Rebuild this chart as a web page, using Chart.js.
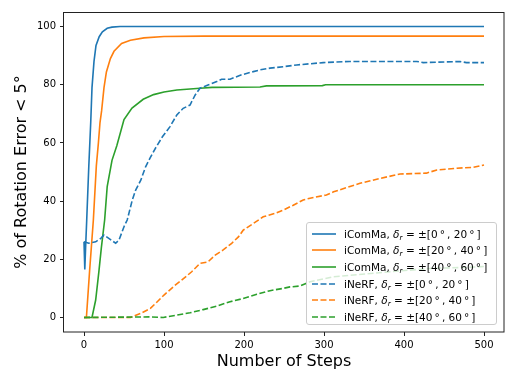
<!DOCTYPE html>
<html><head><meta charset="utf-8">
<script src="https://cdn.jsdelivr.net/npm/chart.js@4"></script>
<style>
html,body{margin:0;padding:0;background:#fff;}
#wrap{position:relative;width:515px;height:386px;}
#legend{position:absolute;left:306px;top:222px;width:191px;height:103px;box-sizing:border-box;border:1px solid #ccc;border-radius:3px;background:rgba(255,255,255,0.8);font-family:'DejaVu Sans';font-size:10.5px;color:#000;}
.row{position:absolute;left:5px;height:16px;display:flex;align-items:center;white-space:nowrap;}
.row svg{display:block;margin-right:8px;}
.row i sub{font-size:0.7em;vertical-align:-0.3em;line-height:0;}
</style>
</head><body>
<div id="wrap"><canvas id="c" width="515" height="386"></canvas><div id="legend"></div></div>
<script>
// ---- data ----
const xTicks = [0, 100, 200, 300, 400, 500];
const yTicks = [0, 20, 40, 60, 80, 100];
const xTitle = 'Number of Steps';
const yTitle = '% of Rotation Error < 5°';
const methods = ['iComMa', 'iComMa', 'iComMa', 'iNeRF', 'iNeRF', 'iNeRF'];
const ranges = [[0, 20], [20, 40], [40, 60], [0, 20], [20, 40], [40, 60]];

const icommaA_x = [0, 1, 2, 3.4, 6, 8.4, 10, 12.5, 15, 19, 23, 29, 35, 45, 500];
const icommaA_y = [26, 16.5, 24, 33.5, 52, 67, 79, 88, 93.5, 96.5, 98.2, 99.4, 99.8, 100, 100];

const icommaB_x = [0, 3, 7, 11.7, 15.4, 18, 20, 22, 25, 28, 33, 37.5, 47, 58, 75, 100, 150, 500];
const icommaB_y = [0, 0, 16, 33.5, 52, 60, 67, 71, 79, 84.4, 89, 91.5, 94.2, 95.3, 96.1, 96.6, 96.7, 96.7];

const icommaC_x = [0, 10, 14.6, 18.7, 21.7, 25.8, 29, 35, 41, 50, 60, 74, 87, 100, 116, 145, 160, 220, 228, 298, 302, 500];
const icommaC_y = [0, 0, 6, 16, 24, 33.5, 45, 54, 59, 68, 72, 75, 76.6, 77.5, 78.2, 78.8, 79.1, 79.2, 79.6, 79.7, 80, 80];

const inerfA_x = [0, 6, 14.6, 21, 25, 31, 39.6, 43.75, 50, 54, 60.4, 64.6, 71, 77, 83, 90, 98, 107.5, 116, 124, 132.5, 139, 145, 155, 166, 172, 182.5, 197, 211.6, 220, 232.5, 249, 266, 299, 332, 416, 424, 470, 478, 500];
const inerfA_y = [26, 25.5, 26, 27.2, 28.3, 27.2, 25.5, 26.6, 31.2, 33.5, 40.4, 43.8, 47.2, 51.8, 55, 58.5, 62.1, 65.6, 69.6, 71.9, 73, 76.5, 78.8, 79.9, 81.1, 81.9, 81.9, 83.4, 84.5, 85.1, 85.7, 86.2, 86.8, 87.6, 88, 88, 87.6, 88, 87.6, 87.6];

const inerfB_x = [0, 58, 71, 83, 91.6, 100, 114, 122, 134.6, 145, 155, 164, 174, 184.6, 193, 199, 211.6, 224, 239, 249, 261.6, 274, 282.5, 303, 312, 345, 370, 395, 428, 441, 466, 486.6, 500];
const inerfB_y = [0, 0, 1.4, 3.1, 5.4, 7.7, 11.1, 12.8, 15.7, 18.6, 19.1, 21.4, 23.2, 25.5, 27.7, 30, 32.3, 34.6, 35.8, 36.9, 38.6, 40.4, 41, 42.1, 43.2, 46.1, 47.8, 49.3, 49.6, 50.7, 51.3, 51.6, 52.4];

const inerfC_x = [0, 82.5, 99, 116, 132.5, 149, 166, 182.5, 199, 216, 232.5, 249, 257.5, 270, 282.5, 312, 353, 395, 436, 478, 500];
const inerfC_y = [0, 0.2, 0, 0.8, 1.6, 2.7, 3.9, 5.4, 6.5, 8, 9.2, 10, 10.5, 10.8, 12.3, 14, 15, 16, 16.9, 17.2, 17.5];

// ---- styles ----
const colors = ['#1f77b4', '#ff7f0e', '#2ca02c', '#1f77b4', '#ff7f0e', '#2ca02c'];
const DASH = [6, 2.5];
const seriesX = [icommaA_x, icommaB_x, icommaC_x, inerfA_x, inerfB_x, inerfC_x];
const seriesY = [icommaA_y, icommaB_y, icommaC_y, inerfA_y, inerfB_y, inerfC_y];

const labelText = i => methods[i] + ', δr = ±[' + ranges[i][0] + '°, ' + ranges[i][1] + '°]';

const datasets = seriesX.map((xs, i) => ({
  label: labelText(i),
  data: xs.map((x, k) => ({x: x, y: seriesY[i][k]})),
  borderColor: colors[i],
  backgroundColor: colors[i],
  borderWidth: 1.6,
  borderDash: i >= 3 ? DASH : [],
  pointRadius: 0,
  tension: 0,
  fill: false,
  order: 5 - i
}));

const FONT = "'DejaVu Sans', sans-serif";
Chart.defaults.font.family = FONT;
Chart.defaults.color = '#000';

const framePlugin = {
  id: 'frame',
  afterDatasetsDraw(chart) {
    const {ctx, chartArea: a} = chart;
    ctx.save();
    ctx.strokeStyle = '#222';
    ctx.lineWidth = 1;
    ctx.strokeRect(Math.round(a.left) - 0.5, Math.round(a.top) + 0.5, Math.round(a.right - a.left) + 0.5, Math.round(a.bottom - a.top) - 0.5);
    ctx.restore();
  }
};

new Chart(document.getElementById('c'), {
  type: 'line',
  data: {datasets},
  options: {
    responsive: false,
    animation: false,
    devicePixelRatio: 1,
    layout: {padding: {left: 0, right: 11, top: 12, bottom: 0}},
    plugins: {legend: {display: false}, tooltip: {enabled: false}},
    scales: {
      x: {
        type: 'linear', min: -25, max: 525,
        afterBuildTicks: s => { s.ticks = xTicks.map(v => ({value: v})); },
        afterFit: s => { s.height = 54; },
        ticks: {padding: 3, font: {size: 10}, maxRotation: 0, autoSkip: false, color: '#000'},
        grid: {drawOnChartArea: false, drawTicks: true, tickLength: 4, color: '#222', lineWidth: 1},
        border: {display: false},
        title: {display: true, text: xTitle, font: {size: 16}, color: '#000', padding: {top: 0, bottom: 15}}
      },
      y: {
        type: 'linear', min: -5, max: 105,
        afterBuildTicks: s => { s.ticks = yTicks.map(v => ({value: v})); },
        afterFit: s => { s.width = 64; },
        ticks: {padding: 4, font: {size: 10}, color: '#000'},
        grid: {drawOnChartArea: false, drawTicks: true, tickLength: 4, color: '#222', lineWidth: 1},
        border: {display: false},
        title: {display: true, text: yTitle, font: {size: 16}, color: '#000', padding: {top: 12, bottom: 0}}
      }
    }
  },
  plugins: [framePlugin]
});

// ---- legend (HTML overlay) ----
const leg = document.getElementById('legend');
datasets.forEach((d, i) => {
  const row = document.createElement('div');
  row.className = 'row';
  row.style.top = (2.5 + 16.7 * i) + 'px';
  const dash = d.borderDash.length ? d.borderDash.join(' ') : 'none';
  row.innerHTML =
    '<svg width="24" height="10"><line x1="0" y1="5" x2="24" y2="5" stroke="' + d.borderColor +
    '" stroke-width="1.6" stroke-dasharray="' + dash + '"/></svg>' +
    '<span>' + methods[i] + ', <i>δ<sub>r</sub></i> = ±[' + ranges[i][0] + '\u2009°\u2009, ' + ranges[i][1] + '\u2009°\u2009]</span>';
  leg.appendChild(row);
});
</script>
</body></html>
